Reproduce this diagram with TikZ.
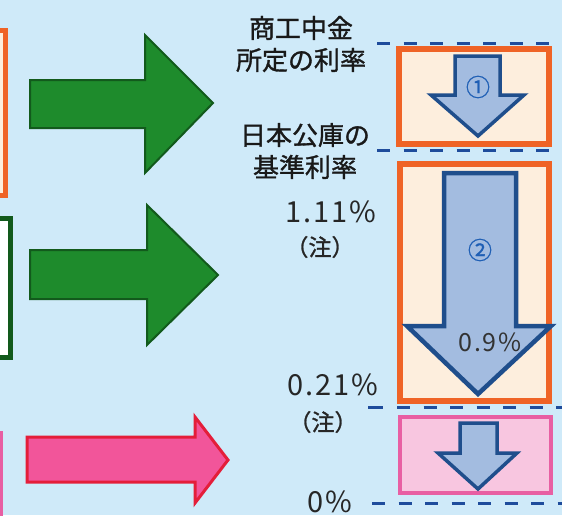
\documentclass[tikz,border=0pt]{standalone}
\usepackage{fontspec}
\newfontfamily\jp{Noto Sans CJK JP}
\newfontfamily\jpb[FakeBold=1.2]{Noto Sans CJK JP}
\newfontfamily\jpn[LetterSpace=6]{Noto Sans CJK JP}
\definecolor{bg}{HTML}{CFEAF9}
\definecolor{grn}{HTML}{1E8B2C}
\definecolor{grnd}{HTML}{125A1C}
\definecolor{pnk}{HTML}{F2559A}
\definecolor{redl}{HTML}{E41E3A}
\definecolor{orn}{HTML}{EF6326}
\definecolor{crm}{HTML}{FDEEDD}
\definecolor{dblue}{HTML}{1F4E8C}
\definecolor{afill}{HTML}{A3BCE0}
\definecolor{pbox}{HTML}{E85FA3}
\definecolor{pfill}{HTML}{F8C6E0}
\definecolor{dashc}{HTML}{1E4C9C}
\definecolor{numc}{HTML}{1F5FB5}
\tikzset{
  greenarrow/.style={fill=grn,draw=grnd,line width=2pt,line join=miter},
  pinkarrow/.style={fill=pnk,draw=redl,line width=3pt,line join=miter},
  downarrow/.style={fill=afill,draw=dblue,line width=4pt,line join=miter},
  orangebox/.style={fill=crm,draw=orn,line width=5.5pt},
  pinkbox/.style={fill=pfill,draw=pbox,line width=4pt},
  level/.style={draw=dashc,line width=3pt,dash pattern=on 13pt off 13.5pt},
  jtext/.style={font=\jpb\fontsize{26}{32}\selectfont,align=center,inner sep=0pt,text=black!90},
  numtext/.style={font=\jpn\fontsize{29}{32}\selectfont,inner sep=0pt,text=black!85},
  notetext/.style={font=\jpb\fontsize{23}{28}\selectfont,inner sep=0pt,text=black!85},
  circnum/.style={font=\jpb\fontsize{24}{26}\selectfont,inner sep=0pt,text=numc}
}
\begin{document}
\begin{tikzpicture}[x=1pt,y=-1pt]
\useasboundingbox (0,0) rectangle (562,515);
\fill[bg] (0,0) rectangle (562,515);
% left partial boxes
\draw[draw=orn,fill=crm,line width=5pt] (-20,30) rectangle (5,195);
\draw[draw=grnd,fill=white,line width=5pt] (-20,218) rectangle (10,357);
\draw[draw=pbox,fill=pfill,line width=4pt] (-20,433) rectangle (1,540);
% big arrows
\draw[greenarrow] (30,80) -- (145,80) -- (145,35) -- (213,103) -- (145,173) -- (145,128) -- (30,128) -- cycle;
\draw[greenarrow] (30,250) -- (147,250) -- (147,205) -- (218,275) -- (147,345) -- (147,299) -- (30,299) -- cycle;
\draw[pinkarrow] (27,437) -- (195,437) -- (195,417) -- (228,460) -- (195,503) -- (195,482) -- (27,482) -- cycle;
% level dashed lines
\draw[level] (377,43) -- (556,43);
\draw[level] (377,150) -- (562,150);
\draw[draw=dashc,line width=3pt] (368,407) -- (383,407);
\draw[level] (397,407) -- (562,407);
\draw[level] (372,503) -- (562,503);
% boxes
\draw[orangebox] (399,49) rectangle (549,144);
\draw[orangebox] (400,164) rectangle (549,401);
\draw[pinkbox] (400,417) rectangle (551,493);
% down arrows
\draw[downarrow,line width=3.5pt] (455,56) -- (500,56) -- (500,95) -- (524,95) -- (478,136) -- (431,95) -- (455,95) -- cycle;
\draw[downarrow,line width=4.5pt] (444,173) -- (516,173) -- (516,326) -- (551,326) -- (478,394) -- (407,326) -- (444,326) -- cycle;
\draw[downarrow,line width=3.5pt] (460,423) -- (497,423) -- (497,453) -- (517,453) -- (478,489) -- (438,453) -- (460,453) -- cycle;
% labels
\node[circnum] (c1) at (478,87) {①};
\node[circnum] (c2) at (480,250) {②};
\node[font=\jpn\fontsize{25}{28}\selectfont,inner sep=0pt,text=black!80] (p09) at (490,342) {0.9\%};
\node[jtext] (shoko) at (301,44) {商工中金\\所定の利率};
\node[jtext] (koko) at (305,151) {日本公庫の\\基準利率};
\node[numtext] (v111) at (331,212) {1.11\%};
\node[notetext] (n1) at (320,247) {（注）};
\node[numtext] (v021) at (333,385) {0.21\%};
\node[notetext] (n2) at (323,422) {（注）};
\node[numtext] (v0) at (330,502) {0\%};
\end{tikzpicture}
\end{document}
